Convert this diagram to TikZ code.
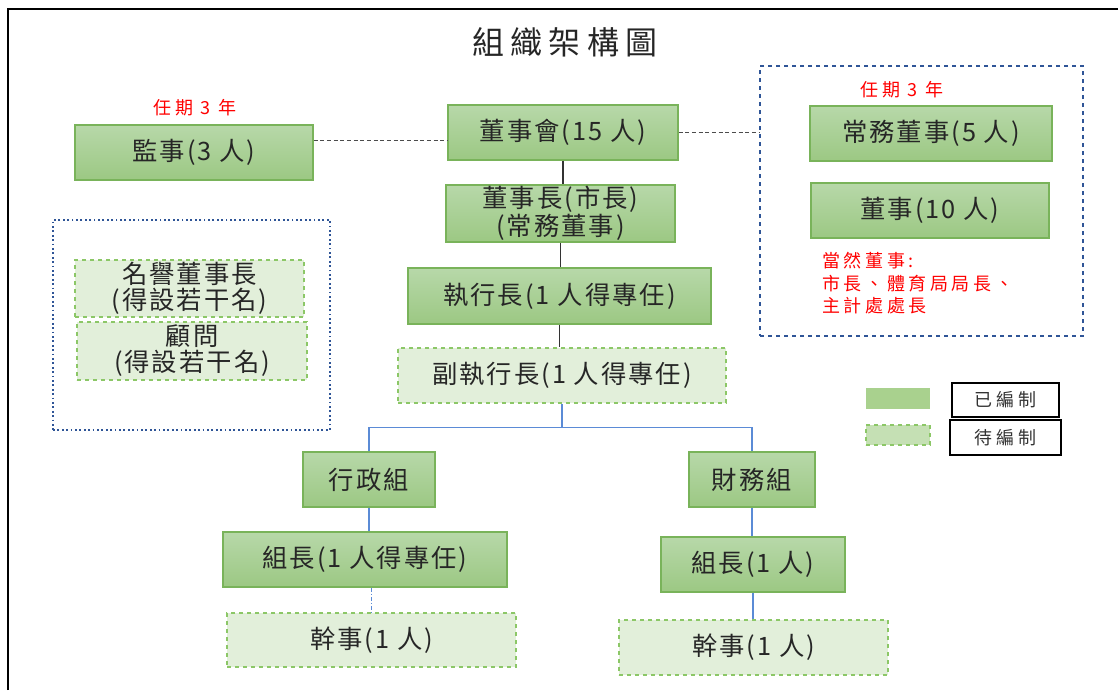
\documentclass[tikz,border=0pt]{standalone}
\usepackage{fontspec}
\setmainfont{Noto Sans CJK TC}[LetterSpace=8]
\newfontfamily\notefont{Noto Sans CJK TC}[LetterSpace=20]
\newfontfamily\titlefont{Noto Sans CJK TC}[LetterSpace=20]
\usepackage{tikz}
\usetikzlibrary{
	calc,               %计算
	positioning         %定位
}
\definecolor{boxtop}{HTML}{B7D8A9}
\definecolor{boxbot}{HTML}{9CC883}
\definecolor{boxline}{HTML}{79B35A}
\definecolor{pendfill}{HTML}{E2EFDA}
\definecolor{pendline}{HTML}{8CC767}
\definecolor{legfill}{HTML}{A9D18E}
\definecolor{legpendfill}{HTML}{C5E0B4}
\definecolor{treeblue}{HTML}{5B8BD6}
\definecolor{frameblue}{HTML}{2F5597}
\definecolor{textgray}{HTML}{262626}
\tikzset{
	every picture/.style={
		>=latex,
		x=0.75pt,y=-0.75pt
}}
\tikzset{
	bsize/.style 2 args={minimum width=#1*0.75pt,minimum height=#2*0.75pt},
	orgbox/.style={rectangle,draw=boxline,line width=0.9pt,
		top color=boxtop,bottom color=boxbot,text=textgray,
		font=\fontsize{19}{19.5}\selectfont,inner sep=0pt,align=center},
	pendbox/.style={rectangle,draw=pendline,dashed,line width=0.8pt,
		fill=pendfill,text=textgray,
		font=\fontsize{19}{19.5}\selectfont,inner sep=0pt,align=center},
	note/.style={text=red,font=\notefont\fontsize{13.5}{17}\selectfont,inner sep=0pt},
	blackline/.style={draw=black!80,line width=0.9pt},
	treeline/.style={draw=treeblue,line width=0.8pt},
	greyline/.style={draw=black!70,line width=0.6pt,dash pattern=on 3pt off 2pt},
	legendtext/.style={rectangle,draw=black,line width=0.8pt,text=black!80,
		font=\notefont\fontsize{13.5}{15}\selectfont,inner sep=0pt}
}

\begin{document}
\begin{tikzpicture}
\useasboundingbox (0,0) rectangle (1118,690);
%外框
\draw[line width=2.2pt] (8,690) -- (8,9) -- (1118,9);
\node[text=textgray,font=\titlefont\fontsize{24}{28}\selectfont] (title) at (565,42) {組織架構圖};
%虚线框
\node[draw=frameblue,dashed,line width=1.2pt,bsize={323}{270}] (cwframe) at (921.5,201) {};
\node[draw=frameblue,dotted,line width=1.3pt,bsize={277}{210}] (hnframe) at (191.5,325) {};
%主干
\node[orgbox,bsize={238}{55}] (jianshi) at (194,152.5) {監事(3 人)};
\node[orgbox,bsize={230}{55}] (dongshihui) at (563,132.5) {董事會(15 人)};
\node[orgbox,bsize={229}{57}] (dongshizhang) at (560.5,213.5) {董事長(市長)\\(常務董事)};
\node[orgbox,bsize={303}{56}] (zhixing) at (559.5,296) {執行長(1 人得專任)};
\node[pendbox,bsize={328}{55}] (fuzhixing) at (562,375.5) {副執行長(1 人得專任)};
%两组
\node[orgbox,bsize={132}{55}] (xingzheng) at (369,479.5) {行政組};
\node[orgbox,bsize={126}{55}] (caiwu) at (752,479.5) {財務組};
\node[orgbox,bsize={284}{55}] (xzzuzhang) at (365,559.5) {組長(1 人得專任)};
\node[pendbox,bsize={289}{54}] (xzganshi) at (371.5,640) {幹事(1 人)};
\node[orgbox,bsize={184}{55}] (cwzuzhang) at (753,564.5) {組長(1 人)};
\node[pendbox,bsize={269}{55}] (cwganshi) at (753.5,647.5) {幹事(1 人)};
%右边董事
\node[note] (termR) at (902,90) {任期 3 年};
\node[orgbox,bsize={242}{55}] (changwu) at (931,133.5) {常務董事(5 人)};
\node[orgbox,bsize={238}{55}] (dongshi) at (930,210.5) {董事(10 人)};
\node[note,anchor=north west,align=left] (dangran) at (822,252) {當然董事:\\市長、體育局局長、\\主計處處長};
%左边
\node[note] (termL) at (195,108) {任期 3 年};
\node[pendbox,bsize={229}{57}] (mingyu) at (189.5,288.5) {名譽董事長\\(得設若干名)};
\node[pendbox,bsize={230}{58}] (guwen) at (192,351) {顧問\\(得設若干名)};
%图例
\node[rectangle,fill=legfill,bsize={64}{21}] (legdone) at (898,398.5) {};
\node[legendtext,bsize={107}{34}] (legdonetxt) at (1005.5,400) {已編制};
\node[rectangle,draw=pendline,dashed,line width=0.8pt,fill=legpendfill,bsize={64}{20}] (legpend) at (898,435) {};
\node[legendtext,bsize={111}{35}] (legpendtxt) at (1005.5,437.5) {待編制};
%连线
\coordinate (jsline) at (0,140);
\draw[greyline] (jsline -| jianshi.east) -- (jsline -| dongshihui.west);
\draw[greyline] (dongshihui.east) -- (dongshihui.east -| cwframe.west);
\draw[blackline] (dongshihui.south) -- (dongshihui.south |- dongshizhang.north);
\draw[blackline] (dongshizhang.south) -- (dongshizhang.south |- zhixing.north);
\draw[blackline] (zhixing.south) -- (zhixing.south |- fuzhixing.north);
\draw[treeline] (fuzhixing.south) -- ++(0,24) coordinate (fork);
\draw[treeline] (xingzheng.north) |- (fork) -| (caiwu.north);
\draw[treeline] (xingzheng.south) -- (xingzheng.south |- xzzuzhang.north);
\draw[treeline,dash pattern=on 3pt off 1.5pt on 1pt off 1.5pt] (xzzuzhang.south -| xzganshi.north) -- (xzganshi.north);
\draw[treeline] (caiwu.south) -- (caiwu.south |- cwzuzhang.north);
\draw[treeline] (cwzuzhang.south) -- (cwzuzhang.south |- cwganshi.north);
\end{tikzpicture}
\end{document}
